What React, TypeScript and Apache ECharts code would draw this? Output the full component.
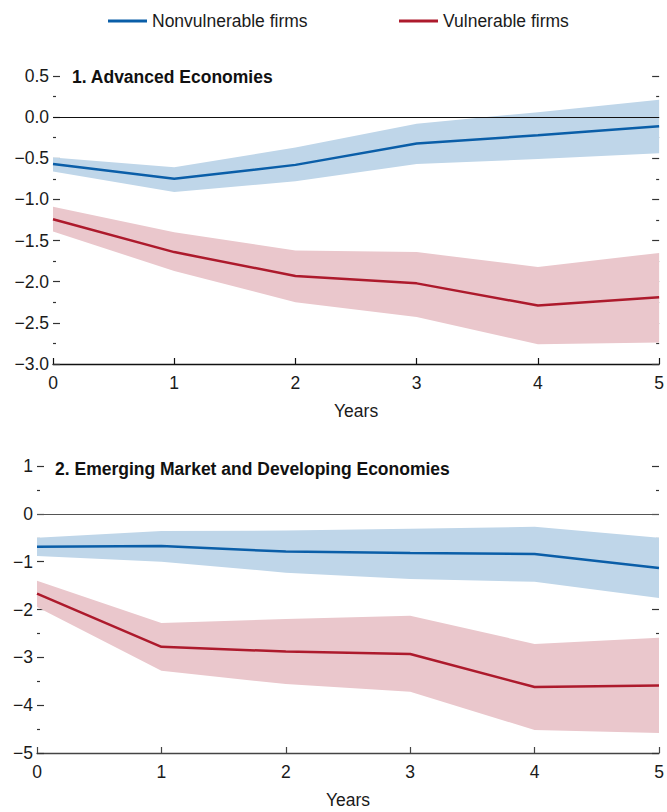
import React, { useEffect, useRef } from "react";
import * as echarts from "echarts";

const years = [0, 1, 2, 3, 4, 5];
const xTickLabels = ["0", "1", "2", "3", "4", "5"];
const seriesNames = ["Nonvulnerable firms", "Vulnerable firms"];
const panelTitles = ["1. Advanced Economies", "2. Emerging Market and Developing Economies"];

// Panel 1: Advanced Economies
const aeNonvulnerable = [-0.57, -0.75, -0.58, -0.32, -0.22, -0.11];
const aeNonvulnerableLower = [-0.66, -0.91, -0.78, -0.57, -0.51, -0.44];
const aeNonvulnerableUpper = [-0.49, -0.61, -0.37, -0.08, 0.06, 0.21];
const aeVulnerable = [-1.24, -1.64, -1.93, -2.02, -2.29, -2.19];
const aeVulnerableLower = [-1.39, -1.87, -2.25, -2.43, -2.76, -2.74];
const aeVulnerableUpper = [-1.09, -1.4, -1.62, -1.64, -1.82, -1.65];

// Panel 2: Emerging Market and Developing Economies
const emNonvulnerable = [-0.69, -0.67, -0.79, -0.82, -0.84, -1.13];
const emNonvulnerableLower = [-0.88, -1.0, -1.23, -1.36, -1.42, -1.76];
const emNonvulnerableUpper = [-0.5, -0.36, -0.35, -0.31, -0.27, -0.5];
const emVulnerable = [-1.67, -2.78, -2.88, -2.93, -3.62, -3.59];
const emVulnerableLower = [-1.95, -3.28, -3.56, -3.72, -4.52, -4.58];
const emVulnerableUpper = [-1.4, -2.28, -2.2, -2.13, -2.72, -2.59];

const FONT = "'Liberation Sans', Arial, sans-serif";
const FS = 17.5;
const BLUE = "#0a5ea8";
const RED = "#ad1a2c";
const BLUE_BAND = "#bfd6e9";
const RED_BAND = "#eac7cc";
const TEXT = "#1a1a1a";

function band(lo: number[], hi: number[], color: string, xIdx: number, yIdx: number) {
  return {
    type: "custom",
    xAxisIndex: xIdx,
    yAxisIndex: yIdx,
    silent: true,
    z: 1,
    data: years.map((x, i) => [x, lo[i], hi[i]]),
    encode: { x: 0, y: [1, 2] },
    renderItem: (params: any, api: any) => {
      if (params.dataIndex !== 0) return null;
      const top = years.map((x, i) => api.coord([x, hi[i]]));
      const bottom = years.map((x, i) => api.coord([x, lo[i]])).reverse();
      return {
        type: "polygon",
        shape: { points: [...top, ...bottom] },
        style: { fill: color, stroke: "none" },
        silent: true,
      };
    },
  };
}

function mainLine(name: string, ys: number[], color: string, xIdx: number, yIdx: number, zeroColor?: string) {
  const s: any = {
    type: "line",
    name,
    xAxisIndex: xIdx,
    yAxisIndex: yIdx,
    data: years.map((x, i) => [x, ys[i]]),
    symbol: "none",
    lineStyle: { color, width: 2.5 },
    itemStyle: { color },
    z: 3,
  };
  if (zeroColor) {
    s.markLine = {
      silent: true,
      symbol: "none",
      label: { show: false },
      lineStyle: { color: zeroColor, width: 1.2, type: "solid" },
      data: [{ yAxis: 0 }],
    };
  }
  return s;
}

const fmt = (dec: number) => (v: number) => {
  const s = Math.abs(v) < 1e-9 ? (0).toFixed(dec) : v.toFixed(dec);
  return s.replace("-", "\u2212");
};

function xAxis(gridIndex: number, lineColor: string) {
  return {
    type: "value",
    gridIndex,
    min: 0,
    max: 5,
    interval: 1,
    name: "Years",
    nameLocation: "middle",
    nameGap: 38,
    nameTextStyle: { fontFamily: FONT, fontSize: FS, color: TEXT },
    axisLine: { show: true, onZero: false, lineStyle: { color: lineColor, width: 1.3 } },
    axisTick: { show: true, inside: true, length: 6, lineStyle: { color: lineColor, width: 1.2 } },
    axisLabel: {
      fontFamily: FONT,
      fontSize: FS,
      color: TEXT,
      margin: 10,
      formatter: (v: number) => xTickLabels[years.indexOf(v)] ?? "",
    },
    splitLine: { show: false },
  };
}

function yAxes(gridIndex: number, min: number, max: number, interval: number, dec: number) {
  const common = {
    type: "value",
    gridIndex,
    min,
    max,
    interval,
    splitLine: { show: false },
    minorSplitLine: { show: false },
    axisLine: { show: false, onZero: false },
    axisTick: { show: true, inside: true, length: 7, lineStyle: { color: "#333", width: 1.2 } },
    minorTick: { show: true, splitNumber: 2, length: 3, lineStyle: { color: "#333", width: 1.2 } },
  };
  return [
    {
      ...common,
      position: "left",
      axisLabel: { fontFamily: FONT, fontSize: FS, color: TEXT, margin: 4, formatter: fmt(dec) },
    },
    {
      ...common,
      position: "right",
      axisLabel: { show: false },
    },
  ];
}

const legendCommon = {
  top: 12,
  padding: 0,
  icon: "rect",
  itemWidth: 39,
  itemHeight: 3,
  textStyle: { fontFamily: FONT, fontSize: FS, color: TEXT, padding: [0, 0, 0, 0] },
};

export default function App() {
  const ref = useRef<HTMLDivElement>(null);
  useEffect(() => {
    document.body.style.margin = "0";
    const chart = echarts.init(ref.current!, null, { renderer: "svg" });
    const option: any = {
      animation: false,
      backgroundColor: "#fff",
      textStyle: { fontFamily: FONT },
      legend: [
        { ...legendCommon, data: [seriesNames[0]], left: 108 },
        { ...legendCommon, data: [seriesNames[1]], left: 399 },
      ],
      graphic: [
        {
          type: "text",
          x: 72,
          y: 77,
          style: { text: panelTitles[0], font: `bold ${FS}px ${FONT}`, fill: "#111", verticalAlign: "middle" },
        },
        {
          type: "text",
          x: 55,
          y: 469,
          style: { text: panelTitles[1], font: `bold ${FS}px ${FONT}`, fill: "#111", verticalAlign: "middle" },
        },
      ],
      grid: [
        { left: 53, right: 7, top: 76, height: 288 },
        { left: 37, right: 8, top: 466, height: 287 },
      ],
      xAxis: [xAxis(0, "#111"), xAxis(1, "#444")],
      yAxis: [...yAxes(0, -3, 0.5, 0.5, 1), ...yAxes(1, -5, 1, 1, 0)],
      series: [
        band(aeNonvulnerableLower, aeNonvulnerableUpper, BLUE_BAND, 0, 0),
        band(aeVulnerableLower, aeVulnerableUpper, RED_BAND, 0, 0),
        band(emNonvulnerableLower, emNonvulnerableUpper, BLUE_BAND, 1, 2),
        band(emVulnerableLower, emVulnerableUpper, RED_BAND, 1, 2),
        mainLine(seriesNames[0], aeNonvulnerable, BLUE, 0, 0, "#111"),
        mainLine(seriesNames[1], aeVulnerable, RED, 0, 0),
        mainLine(seriesNames[0], emNonvulnerable, BLUE, 1, 2, "#555"),
        mainLine(seriesNames[1], emVulnerable, RED, 1, 2),
      ],
    };
    chart.setOption(option);
    return () => chart.dispose();
  }, []);
  return <div ref={ref} style={{ width: 667, height: 812 }} />;
}
